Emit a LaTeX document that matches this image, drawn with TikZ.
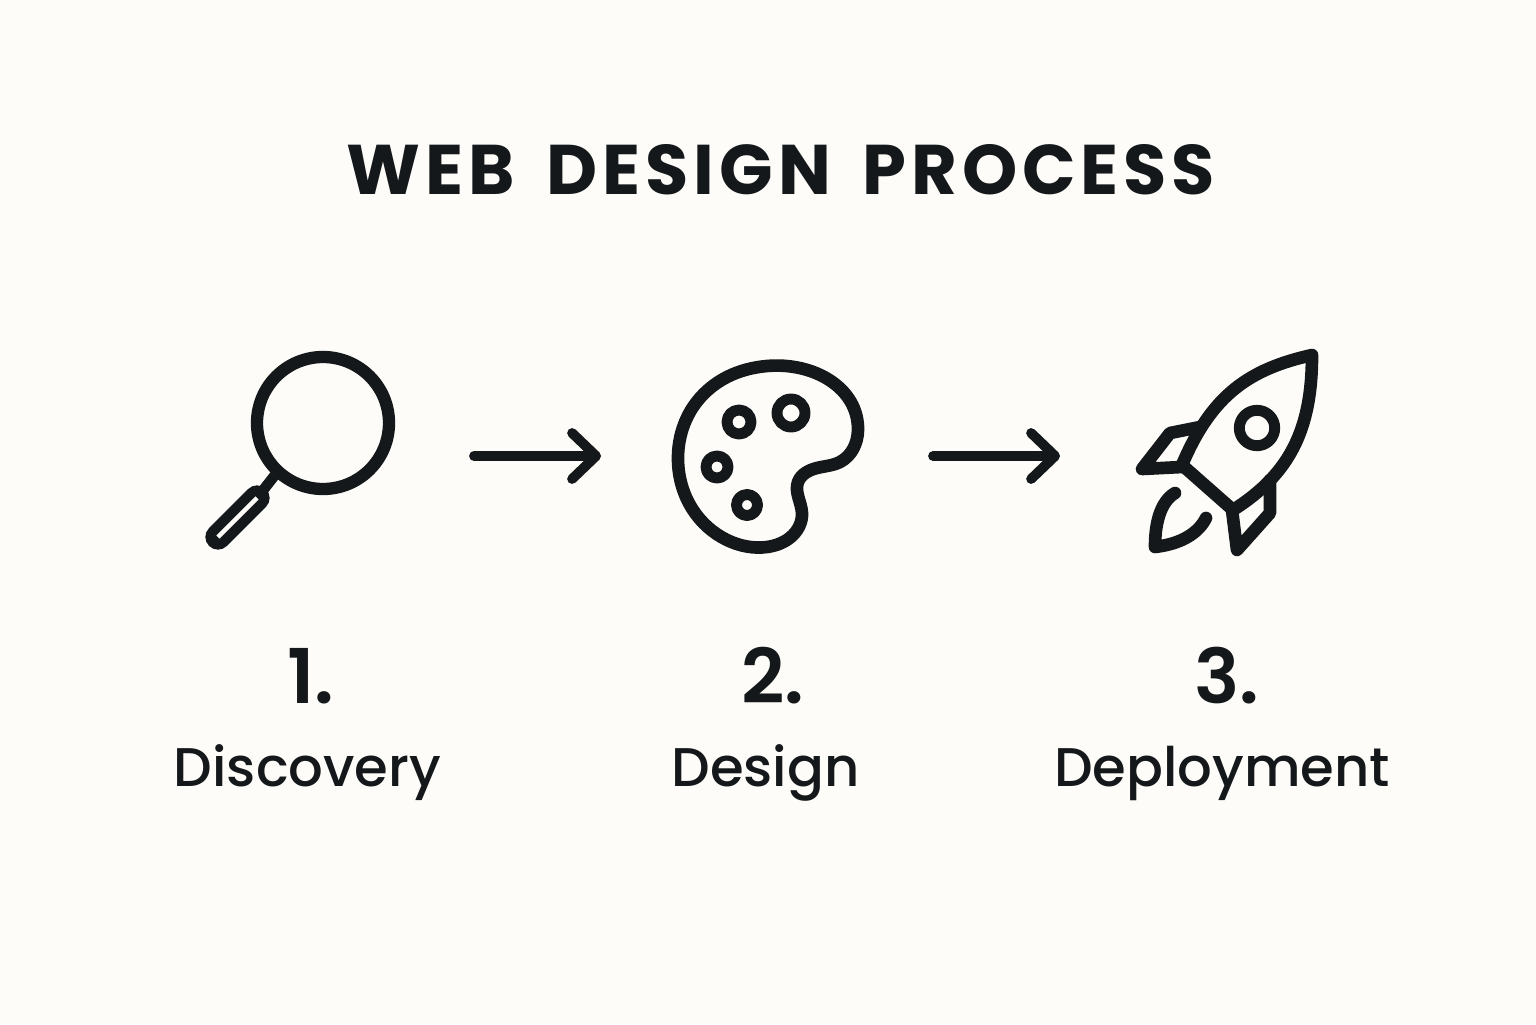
\documentclass[tikz,border=0pt]{standalone}
\usepackage{fontspec}
\usepackage{xcolor}
\usepackage{tikz}
\usetikzlibrary{arrows.meta,hobby}
\setmainfont{Poppins Medium}
\newfontfamily\titlefont[LetterSpace=7,WordSpace=1.6]{Poppins Bold}
\newfontfamily\numfont{Poppins SemiBold}
\definecolor{paper}{HTML}{FDFCF9}
\definecolor{ink}{HTML}{15181A}
\tikzset{%
    icon/.style={draw=ink,line width=3.6pt,line join=round,line cap=round},
    ring/.style={icon,line width=3.1pt},
    flow/.style={draw=ink,line width=2.8pt,line cap=round,
        -{Straight Barb[length=0.24cm,width=0.46cm,round]}},
    numlabel/.style={text=ink,font=\numfont\fontsize{21.5}{30}\selectfont,anchor=base},
    steplabel/.style={text=ink,font=\fontsize{15.5}{20}\selectfont,anchor=base}
}

\begin{document}
\begin{tikzpicture}
  \useasboundingbox (0,0) rectangle (15.36,10.24);
  \fill[paper] (0,0) rectangle (15.36,10.24);
  \node[text=ink,anchor=base,font=\titlefont\fontsize{20}{25}\selectfont] (title) at (7.81,8.29) {WEB DESIGN PROCESS};
  % magnifier
  \draw[icon,line width=3.5pt] (3.23,6.01) circle (0.66);
  \coordinate (lensrim) at (2.75,5.49);
  \coordinate (gripend) at (2.18,4.87);
  \coordinate (griptop) at (2.57,5.26);
  \draw[icon,line width=3pt] (griptop) -- (lensrim);
  \draw[icon,line width=7.2pt] (gripend) -- (griptop);
  \draw[paper,line width=1.3pt] (gripend) -- (griptop);
  % palette
  \draw[icon,use Hobby shortcut,closed=true] (7.67,6.58) .. (8.58,5.94) .. (8.40,5.62) .. (8.17,5.56) .. (7.98,5.42) .. (8.02,5.11) .. (7.93,4.89) .. (7.67,4.77) .. (7.27,4.84) .. (6.93,5.14) .. (6.78,5.64) .. (6.93,6.17) .. (7.27,6.47);
  \draw[ring] (7.39,6.02) circle (0.12);
  \draw[ring] (7.91,6.11) circle (0.14);
  \draw[ring] (7.17,5.57) circle (0.11);
  \draw[ring] (7.47,5.19) circle (0.105);
  % rocket
  \draw[icon] (13.12,6.69) .. controls (12.50,6.55) and (12.12,6.30) .. (11.82,5.59) -- (12.33,5.14) .. controls (12.90,5.50) and (13.12,5.95) .. (13.12,6.69) -- cycle;
  \draw[icon] (12.00,5.97) -- (11.70,5.91) -- (11.42,5.55) -- (11.82,5.57);
  \draw[icon] (12.70,5.44) -- (12.70,5.11) -- (12.37,4.74) -- (12.32,5.14);
  \draw[ring] (12.57,5.96) circle (0.177);
  \draw[icon] (11.75,5.31) .. controls (11.60,5.22) and (11.55,5.00) .. (11.55,4.77) .. controls (11.80,4.80) and (11.98,4.90) .. (12.06,5.06);
  % arrows
  \coordinate (disc) at (4.74,5.68);
  \coordinate (desl) at (6.01,5.68);
  \coordinate (desr) at (9.33,5.68);
  \coordinate (depl) at (10.60,5.68);
  \draw[flow] (disc) -- (desl);
  \draw[flow] (desr) -- (depl);
  % captions
  \node[numlabel] (numa) at (3.11,3.21) {1.};
  \node[numlabel] (numb) at (7.73,3.21) {2.};
  \node[numlabel] (numc) at (12.27,3.21) {3.};
  \node[steplabel] (capa) at (3.075,2.38) {Discovery};
  \node[steplabel] (capb) at (7.655,2.38) {Design};
  \node[steplabel] (capc) at (12.22,2.38) {Deployment};
\end{tikzpicture}
\end{document}
